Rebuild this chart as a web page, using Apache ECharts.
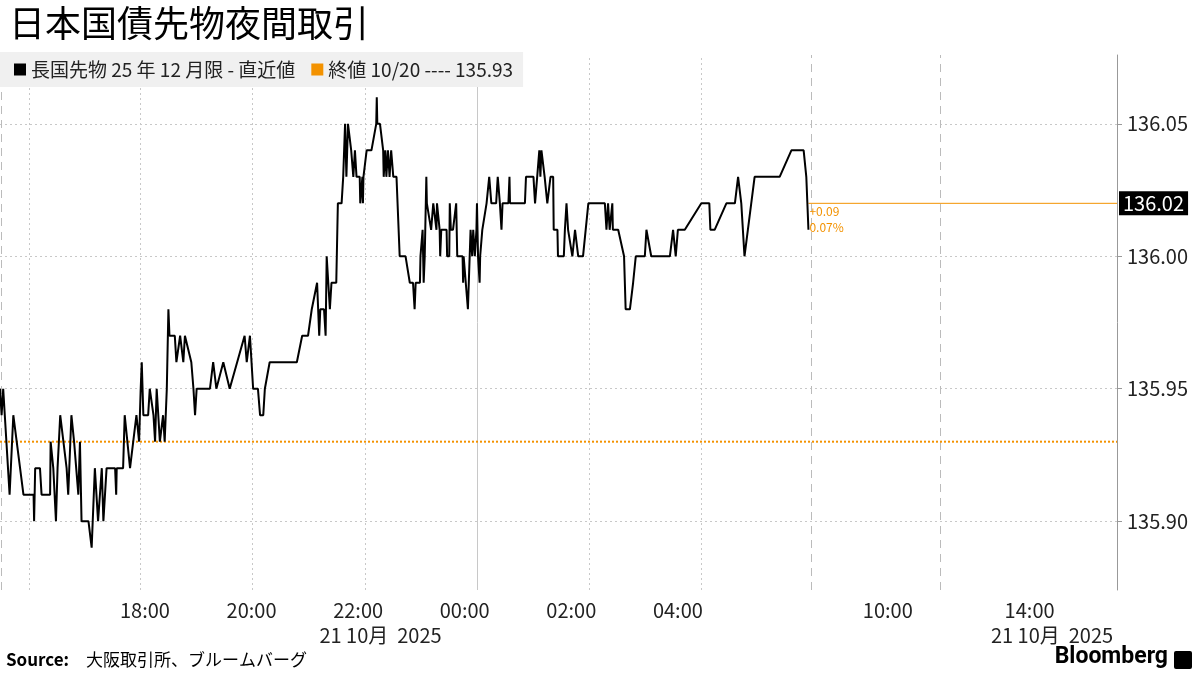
<!DOCTYPE html>
<html><head><meta charset="utf-8">
<script src="https://cdn.jsdelivr.net/npm/echarts@6/dist/echarts.min.js"></script>
<style>html,body{margin:0;padding:0;background:#fff}#c{width:1200px;height:675px}</style>
</head><body><div id="c"></div>
<script>
// x position: hours since 15:00 (chart scale, night session)
const pos = [0.28,0.31,0.34,0.37,0.46,0.53,0.72,0.91,0.92,0.94,1.03,1.06,1.22,1.23,1.28,1.33,1.36,1.41,1.47,1.53,1.56,1.62,1.67,1.75,1.78,1.81,1.94,2.0,2.06,2.12,2.19,2.22,2.28,2.44,2.46,2.47,2.59,2.62,2.72,2.78,2.84,2.89,2.92,2.94,2.97,3.06,3.09,3.16,3.19,3.22,3.28,3.34,3.37,3.41,3.44,3.46,3.56,3.59,3.66,3.72,3.75,3.87,3.91,3.94,3.97,4.22,4.28,4.34,4.47,4.59,4.87,4.91,4.97,5.03,5.12,5.16,5.22,5.25,5.34,5.47,
5.85,5.95,6.06,6.13,
6.16,6.23,6.27,6.29,6.36,6.39,6.41,6.44,6.47,6.5,6.59,6.62,6.69,6.72,6.75,6.755,6.78,6.81,6.87,6.91,6.94,6.97,7.03,7.04,7.08,7.09,7.1,7.16,7.25,7.34,7.35,7.36,7.41,7.47,7.48,7.51,7.53,7.56,7.59,7.62,7.66,7.72,7.78,7.89,7.97,8.03,8.06,8.08,8.16,8.17,8.21,8.23,8.25,8.28,8.29,8.37,8.41,8.47,8.48,8.53,8.54,8.56,8.66,8.67,8.71,8.72,8.74,8.78,8.84,8.86,8.96,8.97,8.98,9.06,9.11,9.14,9.16,9.19,9.22,9.23,9.25,9.28,9.29,9.33,9.41,9.42,9.46,9.5,9.59,9.62,9.66,
9.69,9.71,9.82,9.84,9.85,10.13,10.15,10.29,10.32,10.4,10.42,10.44,10.5,10.55,10.61,10.66,10.67,10.74,10.75,10.86,10.88,10.91,10.94,10.97,11.02,11.07,11.13,11.22,11.32,11.63,11.66,11.69,11.72,11.77,11.78,11.88,11.99,12.02,12.1,12.16,12.21,12.38,12.41,12.5,12.85,12.91,12.96,13.0,13.13,13.44,13.59,13.61,13.69,13.91,14.07,14.13,14.19,14.25,14.44,14.91,15.13,15.36,15.41,15.44,15.45];
const prices = [135.95,135.94,135.95,135.94,135.91,135.94,135.91,135.91,135.90,135.92,135.92,135.91,135.91,135.93,135.92,135.90,135.92,135.94,135.93,135.92,135.91,135.94,135.93,135.91,135.93,135.90,135.90,135.89,135.92,135.90,135.92,135.90,135.92,135.92,135.91,135.92,135.92,135.94,135.92,135.93,135.94,135.93,135.95,135.96,135.94,135.94,135.95,135.94,135.93,135.95,135.93,135.94,135.93,135.95,135.98,135.97,135.97,135.96,135.97,135.96,135.97,135.96,135.95,135.94,135.95,135.95,135.96,135.95,135.96,135.95,135.97,135.96,135.97,135.95,135.95,135.94,135.94,135.95,135.96,135.96,
135.96,135.97,135.97,135.98,
135.98,135.99,135.97,135.98,135.98,135.97,136.00,135.99,135.98,135.99,135.99,136.02,136.02,136.03,136.03,136.05,136.03,136.05,136.04,136.03,136.04,136.03,136.03,136.02,136.03,136.02,136.03,136.04,136.04,136.05,136.06,136.05,136.05,136.04,136.03,136.04,136.03,136.04,136.03,136.04,136.03,136.03,136.00,136.00,135.99,135.99,135.98,135.99,135.99,136.00,136.01,135.99,136.00,136.03,136.02,136.01,136.02,136.01,136.02,136.01,136.00,136.01,136.01,136.00,136.00,136.02,136.01,136.01,136.02,136.00,136.00,135.99,136.00,135.98,136.01,136.00,136.01,136.00,136.01,136.02,136.00,135.99,136.00,136.01,136.02,136.02,136.03,136.02,136.02,136.03,136.02,
136.01,136.02,136.02,136.03,136.02,136.02,136.03,136.03,136.02,136.04,136.03,136.04,136.03,136.02,136.03,136.03,136.01,136.01,136.00,136.00,136.01,136.02,136.01,136.01,136.00,136.01,136.00,136.00,136.02,136.02,136.01,136.02,136.01,136.02,136.01,136.01,136.00,135.98,135.98,135.99,136.00,136.00,136.01,136.00,136.00,136.01,136.00,136.01,136.01,136.02,136.02,136.01,136.01,136.02,136.02,136.03,136.02,136.00,136.03,136.03,136.04,136.04,136.03,136.03,136.01];
const prevClose = 135.93;
const lastValue = 136.02;
const yTicks = [135.90,135.95,136.00,136.05];
const xTickPos = [3,5,7,9,11,13,16.94,19.6];
const xTickLabels = ['18:00','20:00','22:00\n          21 10月  2025','00:00','02:00','04:00','10:00','14:00\n          21 10月  2025'];
const vDotted = [0.82,2.91,5.01,7.13,11.33,13.43];
const vSolid = [9.23];
const vDashed = [0.3,15.51,17.92];
const XMIN = 0.28, XMAX = 21.24;

const font = 'Noto Sans CJK JP';
const lineData = pos.map((p,i)=>[p,prices[i]]);
const last = lineData[lineData.length-1];
const gridLines = [
  ...yTicks.map(v=>({yAxis:v,lineStyle:{type:[2,3],color:'#c8c8c8',width:1}})),
  ...vDotted.map(v=>({xAxis:v,lineStyle:{type:[2,3],color:'#c8c8c8',width:1}})),
  ...vSolid.map(v=>({xAxis:v,lineStyle:{type:'solid',color:'#c8c8c8',width:1}})),
  ...vDashed.map(v=>({xAxis:v,lineStyle:{type:[8,6],color:'#bbbbbb',width:1}}))
];
const chart = echarts.init(document.getElementById('c'));
chart.setOption({
  animation:false,
  textStyle:{fontFamily:font},
  title:{text:'日本国債先物夜間取引',left:4,top:0,textStyle:{fontFamily:font,fontSize:36,fontWeight:'normal',color:'#000'}},
  legend:{left:0,top:52,itemGap:16,padding:[8,10,8,14],backgroundColor:'#f0f0f0',itemWidth:12,itemHeight:12,icon:'rect',
    textStyle:{fontFamily:font,fontSize:19,color:'#222'},
    data:['長国先物 25 年 12 月限 - 直近値','終値 10/20 ---- 135.93']},
  grid:{left:0,right:83,top:55,bottom:85},
  xAxis:{type:'value',min:XMIN,max:XMAX,
    axisLine:{show:false},splitLine:{show:false},
    axisTick:{show:false},
    axisLabel:{customValues:xTickPos,fontSize:20,color:'#222',margin:8,lineHeight:25,fontFamily:font,
      formatter:v=>{let k=0,d=1e9;xTickPos.forEach((p,i)=>{if(Math.abs(p-v)<d){d=Math.abs(p-v);k=i;}});return xTickLabels[k];}}},
  yAxis:{type:'value',position:'right',min:135.874,max:136.076,
    axisLine:{show:true,lineStyle:{color:'#999'}},
    axisTick:{show:true,customValues:yTicks,length:5,lineStyle:{color:'#999'}},
    splitLine:{show:false},
    axisLabel:{customValues:yTicks,fontSize:20,color:'#222',margin:10,formatter:v=>v.toFixed(2)}},
  series:[
    {name:'終値 10/20 ---- 135.93',type:'line',symbol:'none',color:'#f39200',
      data:[[XMIN,prevClose],[XMAX,prevClose]],lineStyle:{type:[2,2],width:2,color:'#f39200'},z:2,
      markLine:{silent:true,symbol:'none',label:{show:false},data:gridLines,z:1}},
    {name:'last',type:'line',symbol:'none',color:'#f39200',silent:true,
      data:[[last[0],lastValue],[XMAX,lastValue]],lineStyle:{type:'solid',width:1,color:'#f39200'},z:3,
      endLabel:{show:true,formatter:'136.02',backgroundColor:'#000',color:'#fff',fontSize:20,padding:[2,4,2,4],fontFamily:font,distance:2}},
    {name:'長国先物 25 年 12 月限 - 直近値',type:'line',symbol:'none',color:'#000',data:lineData,
      lineStyle:{width:2,color:'#000'},z:5,
      markPoint:{symbol:'circle',symbolSize:0,data:[{coord:[last[0],lastValue],
        label:{show:true,position:'right',distance:1,offset:[0,16],formatter:'+0.09\n0.07%',color:'#f39200',fontSize:12,lineHeight:16}}]}}
  ],
  graphic:[
    {type:'text',left:6,top:651,style:{text:'Source:',fontFamily:font,fontSize:17,fontWeight:'bold',fill:'#000'}},
    {type:'text',left:86,top:651,style:{text:'大阪取引所、ブルームバーグ',fontFamily:font,fontSize:17,fill:'#000'}},
    {type:'text',right:32,top:646,style:{text:'Bloomberg',fontFamily:'Roboto',fontSize:23,fontWeight:'bold',fill:'#000'}},
    {type:'rect',right:8,top:651,shape:{width:18,height:18,r:2},style:{fill:'#000'}}
  ]
});
</script></body></html>
